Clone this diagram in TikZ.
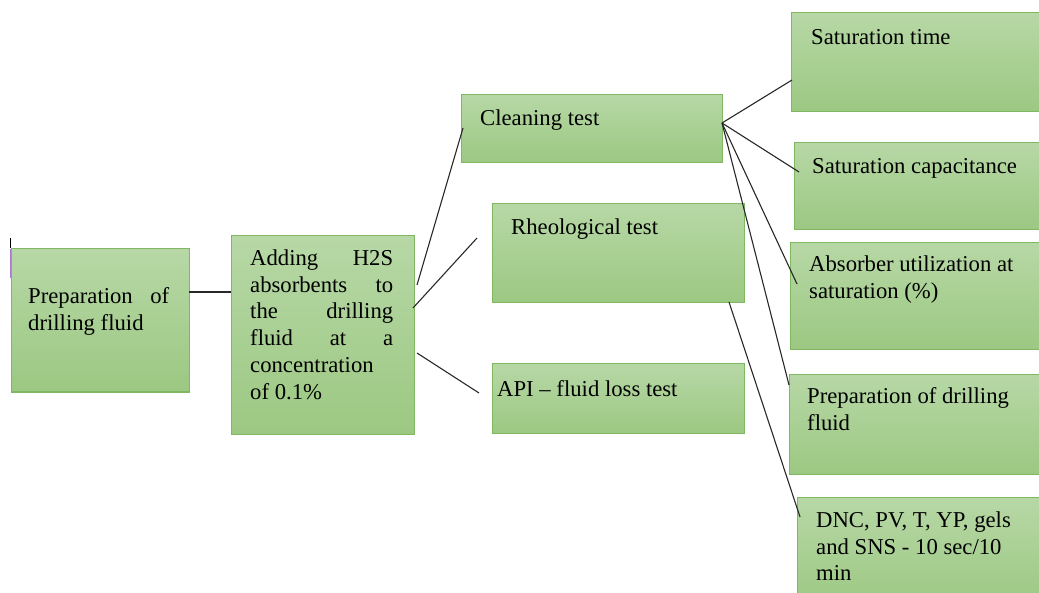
\documentclass[tikz,border=0pt]{standalone}
\usepackage{fontspec}
\setmainfont{Liberation Serif}
\definecolor{boxtop}{RGB}{183,216,166}
\definecolor{boxbot}{RGB}{156,200,130}
\definecolor{boxline}{RGB}{128,184,98}
\definecolor{linkc}{RGB}{40,40,40}
\definecolor{tickp}{RGB}{170,120,210}
\begin{document}
\begin{tikzpicture}[x=1pt,y=-1pt,
  box/.style={draw=boxline, line width=1.2pt, top color=boxtop, bottom color=boxbot, anchor=north west, inner sep=0pt},
  lbl/.style={anchor=north west, inner sep=0pt, align=left, font=\fontsize{22.7}{26.8}\selectfont, text=black},
  link/.style={draw=linkc, line width=1.1pt}]
\clip (0,0) rectangle (1039,593);
% boxes
\node[box, minimum width=178.5pt, minimum height=143.5pt] (A) at (10.5,248) {};
\node[box, minimum width=183pt, minimum height=199pt] (B) at (231,235) {};
\node[box, minimum width=261pt, minimum height=68pt] (C) at (461,94) {};
\node[box, minimum width=252pt, minimum height=99pt] (D) at (492,203) {};
\node[box, minimum width=252pt, minimum height=70pt] (E) at (492,363) {};
\node[box, minimum width=260pt, minimum height=99pt] (F) at (791,12) {};
\node[box, minimum width=260pt, minimum height=87pt] (G) at (794,142) {};
\node[box, minimum width=260pt, minimum height=107pt] (H) at (790,242) {};
\node[box, minimum width=260pt, minimum height=100pt] (I) at (789,374) {};
\node[box, minimum width=260pt, minimum height=110pt] (J) at (797,497) {};
% labels
\node[lbl] (At) at (28,284.4) {\strut\hbox to 141pt{Preparation\hfill of}\\drilling fluid};
\node[lbl] (Bt) at (250,246.4) {\strut\hbox to 143pt{Adding\hfill H2S}\\
  \hbox to 143pt{absorbents\hfill to}\\
  \hbox to 143pt{the\hfill drilling}\\
  \hbox to 143pt{fluid\hfill at\hfill a}\\
  concentration\\of 0.1\%};
\node[lbl] (Ct) at (480,106.4) {\strut Cleaning test};
\node[lbl] (Dt) at (511,215.4) {\strut Rheological test};
\node[lbl] (Et) at (497,377.4) {\strut API – fluid loss test};
\node[lbl] (Ft) at (811,25.4) {\strut Saturation time};
\node[lbl] (Gt) at (812,154.4) {\strut Saturation capacitance};
\node[lbl] (Ht) at (809,252.4) {\strut Absorber utilization at\\saturation (\%)};
\node[lbl] (It) at (807,384.4) {\strut Preparation of drilling\\fluid};
\node[lbl] (Jt) at (816,508.4) {\strut DNC, PV, T, YP, gels\\and SNS - 10 sec/10\\min};
% stray marks at left
\draw[black, line width=1pt] (10.5,238) -- (10.5,248);
\draw[tickp, line width=1.3pt] (10.5,248.6) -- (10.5,278);
% connector end points
\coordinate (aB) at (189,292);
\coordinate (bA) at (231,292);
\coordinate (b1) at (417,285);
\coordinate (c1) at (463,128);
\coordinate (b2) at (413,308);
\coordinate (d1) at (477,238);
\coordinate (b3) at (417,353);
\coordinate (e1) at (479,393);
\coordinate (hub) at (722,123);
\coordinate (f1) at (792,80);
\coordinate (g1) at (799,172);
\coordinate (h1) at (797,284);
\coordinate (i1) at (789,385);
\coordinate (d2) at (729,302);
\coordinate (j1) at (800,517);
% connectors
\draw[link] (aB) -- (bA);
\draw[link] (b1) -- (c1);
\draw[link] (b2) -- (d1);
\draw[link] (b3) -- (e1);
\draw[link] (hub) -- (f1);
\draw[link] (hub) -- (g1);
\draw[link] (hub) -- (h1);
\draw[link] (hub) -- (i1);
\draw[link] (d2) -- (j1);
\end{tikzpicture}
\end{document}
